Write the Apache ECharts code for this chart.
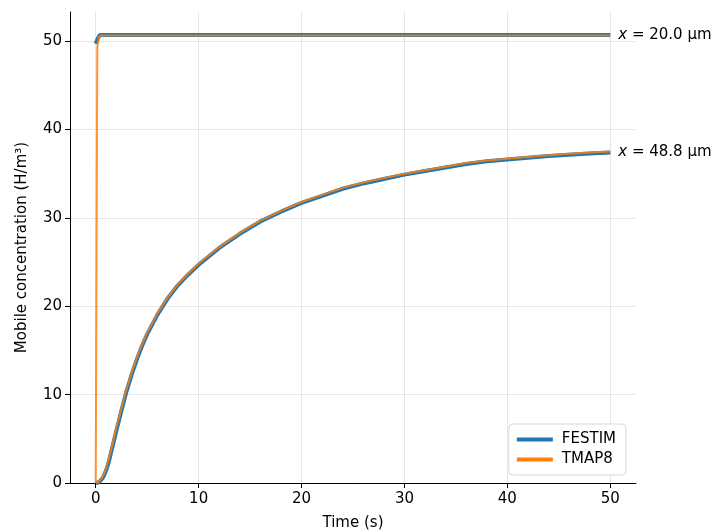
<!DOCTYPE html>
<html>
<head>
<meta charset="utf-8">
<script src="https://cdn.jsdelivr.net/npm/echarts@6/dist/echarts.min.js"></script>
<style>html,body{margin:0;padding:0;background:#fff}#c{width:715px;height:530px}</style>
</head>
<body>
<div id="c"></div>
<script>
// ---- data ----
var timeBottom = [0,0.25,0.5,0.75,1,1.25,1.5,1.75,2,2.5,3,3.5,4,4.5,5,6,7,8,9,10,12,14,16,18,20,22,24,26,28,30,32,34,36,38,40,42,44,46,48,50];
var tmap8Bottom = [0,0.1,0.4,0.9,1.6,2.6,3.8,5.0,6.2,8.5,10.6,12.5,14.2,15.7,17.0,19.2,21.0,22.5,23.7,24.8,26.7,28.3,29.7,30.8,31.8,32.6,33.4,34.0,34.5,35.0,35.4,35.8,36.2,36.5,36.7,36.9,37.1,37.25,37.4,37.5];
var festimBottom = [0,0.05,0.3,0.7,1.4,2.3,3.5,4.7,5.9,8.2,10.4,12.3,14.0,15.5,16.85,19.05,20.9,22.4,23.6,24.7,26.6,28.2,29.6,30.7,31.7,32.5,33.3,33.9,34.4,34.9,35.3,35.7,36.1,36.4,36.6,36.8,37.0,37.15,37.3,37.4];
var timeTopFestim = [0,0.2,0.4,1,5,10,20,30,40,50];
var festimTop = [49.7,50.3,50.7,50.7,50.7,50.7,50.7,50.7,50.7,50.7];
var timeTopTmap = [0,0.15,0.3,0.5,1,5,10,20,30,40,50];
var tmap8Top = [0,49.3,50.5,50.65,50.65,50.65,50.65,50.65,50.65,50.65,50.65];
var xTicks = [0,10,20,30,40,50];
var yTicks = [0,10,20,30,40,50];
var labelTop = '20.0 μm';
var labelBottom = '48.8 μm';

function zip(a,b){return a.map(function(v,i){return [v,b[i]];});}

var FONT = 'DejaVu Sans';
var FS = 15;
var BLUE = '#1f77b4', ORANGE = '#ff7f0e';

function endLabel(txt){
  return {show:true, formatter:'{i|x} = ' + txt, color:'#000', fontFamily:FONT, fontSize:FS, distance:8,
    rich:{i:{fontStyle:'italic', fontFamily:FONT, fontSize:FS, color:'#000'}}};
}

var chart = echarts.init(document.getElementById('c'), null, {renderer:'canvas'});
chart.setOption({
  animation:false,
  backgroundColor:'#fff',
  textStyle:{fontFamily:FONT},
  grid:{left:70, top:12, right:79, bottom:47, containLabel:false, outerBoundsMode:'none'},
  xAxis:{type:'value', min:-2.5, max:52.5,
    name:'Time (s)', nameLocation:'middle', nameGap:33,
    nameTextStyle:{fontFamily:FONT, fontSize:FS, color:'#000'},
    axisLine:{show:true, onZero:false, lineStyle:{color:'#000', width:1}},
    axisTick:{show:true, customValues:xTicks, length:5, lineStyle:{color:'#000'}},
    axisLabel:{customValues:xTicks, fontFamily:FONT, fontSize:FS, color:'#000', margin:9},
    splitLine:{show:true, lineStyle:{color:'#e6e6e6', width:1}}
  },
  yAxis:{type:'value', min:0, max:53.3,
    name:'Mobile concentration (H/m³)', nameLocation:'middle', nameGap:40,
    nameTextStyle:{fontFamily:FONT, fontSize:FS, color:'#000'},
    axisLine:{show:true, onZero:false, lineStyle:{color:'#000', width:1}},
    axisTick:{show:true, customValues:yTicks, length:5, lineStyle:{color:'#000'}},
    axisLabel:{customValues:yTicks, fontFamily:FONT, fontSize:FS, color:'#000', margin:8},
    splitLine:{show:true, lineStyle:{color:'#e6e6e6', width:1}}
  },
  legend:{right:89, bottom:55, orient:'vertical', icon:'rect', itemWidth:36, itemHeight:4, itemGap:5,
    padding:[8,10,8,8], borderColor:'#d9d9d9', borderWidth:1, borderRadius:4, backgroundColor:'#fff',
    textStyle:{fontFamily:FONT, fontSize:FS, color:'#000', padding:[0,0,0,4]},
    data:['FESTIM','TMAP8']
  },
  series:[
    {name:'FESTIM', type:'line', data:zip(timeTopFestim, festimTop), showSymbol:false, symbol:'none',
      lineStyle:{color:BLUE, width:4}, itemStyle:{color:BLUE}, z:2},
    {name:'FESTIM', type:'line', data:zip(timeBottom, festimBottom), showSymbol:false, symbol:'none',
      lineStyle:{color:BLUE, width:4, join:'round'}, itemStyle:{color:BLUE}, z:2},
    {name:'TMAP8', type:'line', data:zip(timeTopTmap, tmap8Top), showSymbol:false, symbol:'none',
      lineStyle:{color:ORANGE, width:2, opacity:0.85}, itemStyle:{color:ORANGE}, z:3, endLabel:endLabel(labelTop)},
    {name:'TMAP8', type:'line', data:zip(timeBottom, tmap8Bottom), showSymbol:false, symbol:'none',
      lineStyle:{color:ORANGE, width:2, opacity:0.85, join:'round'}, itemStyle:{color:ORANGE}, z:3, endLabel:endLabel(labelBottom)}
  ]
});
</script>
</body>
</html>
